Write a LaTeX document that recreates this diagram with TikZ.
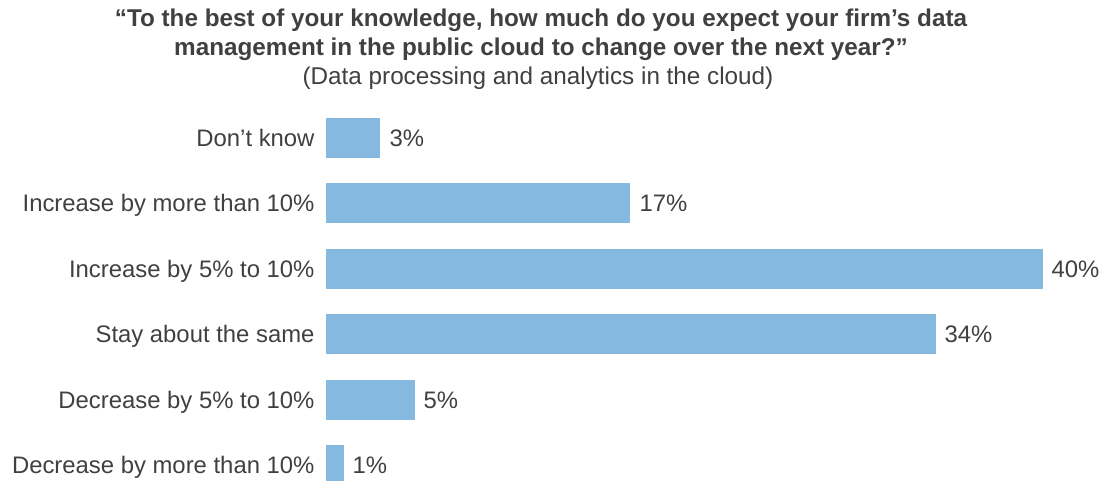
\documentclass[tikz,border=0pt]{standalone}
\usepackage{fontspec}
\setmainfont{Liberation Sans}
\definecolor{barblue}{RGB}{133,185,224}
\definecolor{txtgray}{RGB}{64,64,64}
\tikzset{every picture/.style={line width=0.75pt}}
\tikzset{
  lbl/.style={anchor=base east,inner sep=0.75pt,text=txtgray,font=\fontsize{17.9}{22}\selectfont},
  val/.style={anchor=base west,inner sep=0.75pt,text=txtgray,font=\fontsize{17.9}{22}\selectfont},
  ttl/.style={anchor=base,inner sep=0.75pt,text=txtgray,font=\fontsize{18.2}{22}\selectfont\bfseries},
  sub/.style={anchor=base,inner sep=0.75pt,text=txtgray,font=\fontsize{18.2}{22}\selectfont},
  bar/.style={draw=none,fill=barblue}
}
\begin{document}
\begin{tikzpicture}[x=0.75pt,y=0.75pt,yscale=-1,xscale=1]
%set diagram left start at 0, and has height of 480
\path[use as bounding box] (0,0) rectangle (1109,480);

%Shape: Rectangle [Don't know]
\draw [bar] (326,118) rectangle (380,158) ;
%Shape: Rectangle [Increase by more than 10%]
\draw [bar] (326,183) rectangle (630,223) ;
%Shape: Rectangle [Increase by 5% to 10%]
\draw [bar] (326,249) rectangle (1043,289) ;
%Shape: Rectangle [Stay about the same]
\draw [bar] (326,314) rectangle (936,354) ;
%Shape: Rectangle [Decrease by 5% to 10%]
\draw [bar] (326,380) rectangle (415,420) ;
%Shape: Rectangle [Decrease by more than 10%]
\draw [bar] (326,445) rectangle (344,485) ;

% Text Node
\draw (541,26) node [ttl] (title1) {“To the best of your knowledge, how much do you expect your firm’s data};
% Text Node
\draw (541,55) node [ttl] (title2) {management in the public cloud to change over the next year?”};
% Text Node
\draw (538,84) node [sub] (subtitle) {(Data processing and analytics in the cloud)};

% Text Node
\draw (316,146) node [lbl] (lbl1) {Don’t know};
% Text Node
\draw (316,211) node [lbl] (lbl2) {Increase by more than 10\%};
% Text Node
\draw (316,277) node [lbl] (lbl3) {Increase by 5\% to 10\%};
% Text Node
\draw (316,342) node [lbl] (lbl4) {Stay about the same};
% Text Node
\draw (316,408) node [lbl] (lbl5) {Decrease by 5\% to 10\%};
% Text Node
\draw (316,473) node [lbl] (lbl6) {Decrease by more than 10\%};

% Text Node
\draw (388,146) node [val] (val1) {3\%};
% Text Node
\draw (638,211) node [val] (val2) {17\%};
% Text Node
\draw (1050,277) node [val] (val3) {40\%};
% Text Node
\draw (943,342) node [val] (val4) {34\%};
% Text Node
\draw (422,408) node [val] (val5) {5\%};
% Text Node
\draw (351,473) node [val] (val6) {1\%};

\end{tikzpicture}
\end{document}
